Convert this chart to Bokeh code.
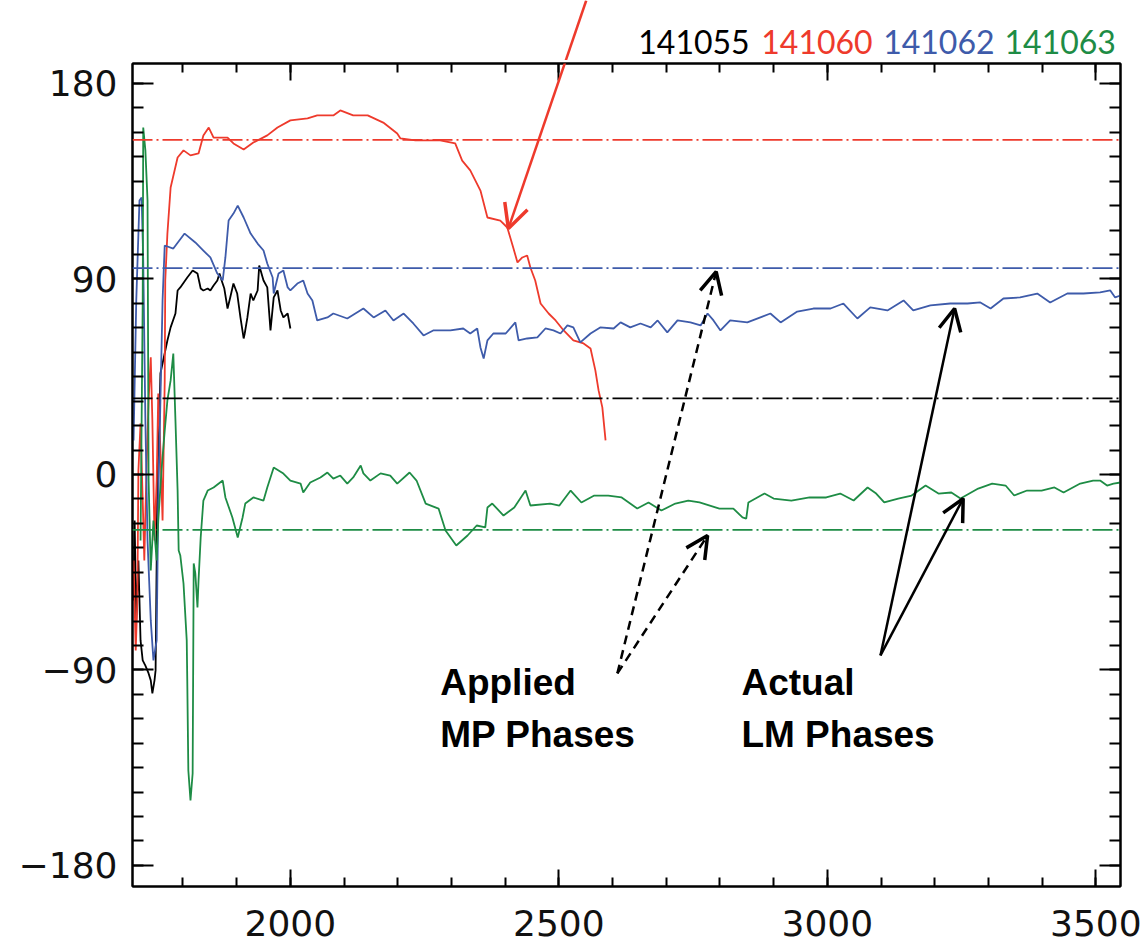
from bokeh.plotting import figure
from bokeh.layouts import column
from bokeh.models import (Span, Label, Arrow, OpenHead, LinearAxis, FixedTicker,
                          CustomJSTickFormatter)
from bokeh.embed import file_html
from bokeh.resources import INLINE

# ---------------- data ----------------
shots = ["141055", "141060", "141062", "141063"]
colors = ["#000000", "#EE3A2C", "#3E5BAA", "#1E8C45"]

# applied MP phases (horizontal reference levels), same order as shots
applied_phase = [35, 154, 95, -25.5]

black_x = [1708, 1710, 1713, 1717, 1721, 1725, 1730, 1736, 1740, 1743, 1747, 1749, 1751, 1752, 1756,
           1758, 1771, 1777, 1786, 1790, 1795, 1808, 1818, 1827, 1833, 1838, 1846, 1851, 1857, 1864,
           1868, 1872, 1877, 1883, 1888, 1894, 1901, 1907, 1913, 1915, 1920, 1926, 1931, 1939, 1942,
           1950, 1957, 1963, 1969, 1976, 1982, 1987, 1995, 2000]
black_y = [-58, -21.2, -67.2, -39.6, -76.4, -85.6, -88, -91.6, -94.8, -100.8, -94.8, -90.2, -39.6, -2.8, 24.8,
           46.5, 61.7, 67.7, 74.1, 84.7, 86.1, 90.7, 93.9, 92.5, 85.6, 84.7, 85.6, 84.7, 87, 89.3,
           92.5, 89.3, 85.6, 76.4, 81.5, 87.9, 83.3, 72.3, 62.6, 64.9, 72.3, 83.3, 80.1, 84.7, 96.2,
           89.3, 86.1, 66.3, 81.5, 84.7, 75.5, 72.3, 74.1, 67.2]

red_x = [1708, 1712, 1715, 1717, 1721, 1725, 1728, 1732, 1736, 1740, 1743, 1747, 1751, 1754, 1758,
         1762, 1766, 1767, 1771, 1777, 1790, 1801, 1814, 1829, 1838, 1848, 1857, 1883, 1894, 1913,
         1931, 1957, 1976, 2000, 2032, 2050, 2080, 2093, 2117, 2144, 2173, 2199, 2205, 2233, 2279,
         2307, 2320, 2335, 2354, 2367, 2391, 2404, 2415, 2423, 2432, 2441, 2447, 2456, 2466, 2481,
         2494, 2509, 2527, 2546, 2559, 2568, 2574, 2581, 2587]
red_y = [-39.6, -81, -58, 1.8, 23.5, -12, -39.6, 1.8, 34.1, 53.9, 24.8, -30.4, -2.8, 37.3, 11,
         -21.2, 43.3, 89.3, 110.9, 132.1, 145.9, 149.2, 146.9, 147.8, 156.1, 159.7, 155.1, 155.1, 152.4, 149.6,
         152.8, 156.1, 159.7, 163, 163.9, 165.3, 165.3, 167.6, 165.3, 165.3, 162, 157, 154.7, 153.8, 153.8,
         152.4, 144.5, 140, 130.7, 118.3, 116.9, 113.7, 104.5, 97.6, 99.9, 100.8, 95.3, 89.3, 78.7, 74.1,
         70.9, 66.3, 61.7, 60.3, 58, 47.9, 38.7, 30.9, 15.7]

blue_x = [1708, 1713, 1719, 1723, 1726, 1730, 1734, 1740, 1745, 1751, 1754, 1758, 1762, 1766, 1782,
          1803, 1823, 1838, 1851, 1864, 1874, 1879, 1885, 1894, 1902, 1913, 1926, 1939, 1950, 1957,
          1967, 1969, 1978, 1987, 1995, 2000, 2013, 2024, 2032, 2041, 2050, 2069, 2080, 2106, 2136,
          2155, 2177, 2192, 2211, 2229, 2248, 2266, 2298, 2322, 2335, 2348, 2354, 2360, 2367, 2378,
          2401, 2419, 2425, 2441, 2460, 2475, 2490, 2503, 2516, 2527, 2540, 2559, 2577, 2602, 2615,
          2633, 2652, 2671, 2684, 2702, 2721, 2745, 2764, 2777, 2788, 2801, 2819, 2851, 2894, 2913,
          2944, 2974, 3006, 3030, 3056, 3080, 3112, 3142, 3160, 3192, 3229, 3261, 3285, 3304, 3328,
          3359, 3391, 3415, 3447, 3477, 3508, 3527, 3536, 3546]
blue_y = [15.6, 80.1, 126.1, 127.5, 98.5, 24.8, -30.4, -67.2, -85.6, -76.4, -12, 34.1, 80.1, 105.4, 104,
          110.9, 106.8, 103.1, 99.9, 92.5, 89.3, 99.9, 116.9, 120.1, 123.8, 118.3, 110.9, 106.3, 103.1, 97.1,
          90.7, 83.3, 92.5, 93.9, 86.1, 84.7, 87.9, 89.3, 83.3, 80.1, 70.9, 72.3, 74.1, 71.8, 76.4,
          72.3, 75.5, 70.9, 74.1, 69.5, 64, 66.3, 66.3, 67.2, 64.9, 67.2, 58.5, 53.4, 61.7, 64.9,
          64.9, 70, 61.7, 62.6, 63.1, 67.2, 66.3, 64.9, 68.6, 67.7, 60.8, 64.9, 67.7, 67.2, 70,
          67.7, 69.5, 67.7, 70.9, 65.4, 70.9, 70, 68.6, 74.1, 70.9, 66.3, 70.9, 70, 74.1, 70,
          75, 76.4, 76.4, 78.7, 71.8, 76.9, 75.5, 80.1, 75.5, 77.8, 78.7, 78.7, 79.2, 76.4, 81,
          81.5, 83.3, 79.2, 83.3, 83.3, 83.8, 84.7, 81.5, 82.4]

green_x = [1721, 1725, 1726, 1730, 1734, 1736, 1740, 1745, 1751, 1754, 1760, 1766, 1771, 1777, 1782,
           1786, 1790, 1792, 1795, 1801, 1807, 1808, 1810, 1814, 1818, 1820, 1823, 1827, 1829, 1833,
           1838, 1846, 1857, 1874, 1879, 1892, 1902, 1911, 1916, 1931, 1950, 1957, 1969, 1987, 2000,
           2019, 2024, 2037, 2056, 2069, 2080, 2093, 2106, 2117, 2131, 2136, 2149, 2168, 2186, 2199,
           2222, 2235, 2252, 2276, 2289, 2309, 2330, 2347, 2363, 2367, 2376, 2397, 2417, 2438, 2447,
           2484, 2501, 2522, 2542, 2566, 2592, 2617, 2646, 2667, 2691, 2717, 2741, 2762, 2799, 2825,
           2842, 2849, 2853, 2883, 2900, 2933, 2967, 2998, 3024, 3049, 3075, 3091, 3106, 3132, 3157,
           3183, 3207, 3231, 3248, 3281, 3307, 3332, 3348, 3372, 3399, 3423, 3440, 3471, 3495, 3508,
           3521, 3533, 3546]
green_y = [-30.4, 80.1, 159.7, 149.2, 126.1, -2.8, -44.2, -21.2, -39.6, -21.2, 1.8, 20.2, 34.1, 43.3, 55.7,
           24.8, -7.4, -35, -37.3, -50.2, -76.4, -94.8, -136.3, -150.1, -137.7, -41, -45.6, -61.2, -48.8, -29,
           -12, -7.4, -6, -2.8, -10.6, -19.8, -29, -19.8, -13.4, -10.6, -12, -6, 3.2, 0.4, -2.8,
           -4.2, -8.3, -3.7, -1.4, 0.9, -1.9, -0.5, -4.2, -1.4, 4.1, 0.5, -2.8, 0.5, -0.5, -4.2,
           0.9, -2.8, -13.4, -15.7, -25.8, -32.7, -28.1, -23.5, -24.4, -15.2, -13.4, -18.9, -15.2, -7.4, -14.3,
           -13.4, -14.3, -7.4, -12.9, -9.7, -9.7, -10.6, -15.7, -12.9, -16.6, -13.4, -12, -12.9, -15.7, -15.7,
           -19.8, -20.3, -12.9, -8.8, -11.1, -12, -10.6, -10.6, -8.8, -12, -6, -8.8, -12.9, -11.1, -9.7,
           -5.1, -8.8, -8.3, -11.1, -6.5, -4.2, -5.1, -9.7, -7.4, -7.4, -6, -8.3, -4.2, -2.8, -2.8,
           -5.1, -4.2, -3.7]

x_major = [2000, 2500, 3000, 3500]
x_minor = list(range(1800, 3600, 100))
y_major = [-180, -90, 0, 90, 180]
y_minor = [-180 + 11.25 * k for k in range(33)]

# annotation anchor points (data coordinates, vertical centre of the text)
legend_x = [2648, 2877, 3104, 3330]
legend_y = 198.9
note_applied = ["Applied", "MP Phases"]
note_actual = ["Actual", "LM Phases"]
note_x = [2279, 2840]
note_y = [-95.8, -119.7]
red_arrow = (2551, 218.2, 2406, 113.2)
dash_arrows = [(2609, -91.6, 2793, 93.4), (2609, -91.6, 2777, -28.1)]
solid_arrows = [(3099, -83.3, 3237, 76.4), (3099, -83.3, 3253, -11.1)]

X_RANGE = (1706, 3546)
Y_MAIN = (-189.7, 189.2)
Y_TOP = (190.6, 218.2)   # strip above the box, same vertical scale

# ---------------- top strip (text / arrow outside the box) ----------------
top_fig = figure(width=1148, height=60, x_range=X_RANGE, y_range=Y_TOP,
                 output_backend="svg", toolbar_location=None,
                 x_axis_type=None, y_axis_type=None,
                 min_border_left=132, min_border_right=28, min_border_top=0, min_border_bottom=0)
top_fig.outline_line_color = None
top_fig.background_fill_color = "white"
top_fig.border_fill_color = "white"
top_fig.xgrid.visible = False
top_fig.ygrid.visible = False

for sx, name, col in zip(legend_x, shots, colors):
    top_fig.add_layout(Label(x=sx, y=legend_y, text=name, text_color=col,
                             text_font="Lato", text_font_size="32px", text_baseline="middle"))

# split the red arrow at the strip's lower edge
xs0, ys0, xe0, ye0 = red_arrow
split_y = Y_TOP[0]
split_x = xs0 + (split_y - ys0) / (ye0 - ys0) * (xe0 - xs0)
top_fig.segment(x0=[xs0], y0=[ys0], x1=[split_x], y1=[split_y], line_color=colors[1], line_width=2.5)

# ---------------- main plot ----------------
p = figure(width=1148, height=885, x_range=top_fig.x_range, y_range=Y_MAIN,
           output_backend="svg", toolbar_location=None,
           min_border_left=132, min_border_right=28, min_border_top=3, min_border_bottom=59)
p.background_fill_color = "white"
p.border_fill_color = "white"
p.xgrid.visible = False
p.ygrid.visible = False
p.outline_line_color = "black"
p.outline_line_width = 2

xt = FixedTicker(ticks=x_major, minor_ticks=x_minor)
yt = FixedTicker(ticks=y_major, minor_ticks=y_minor)
neg_fmt = CustomJSTickFormatter(code="return tick < 0 ? '\u2212' + Math.abs(tick) : String(tick);")
blank_fmt = CustomJSTickFormatter(code="return '';")


def style_axis(ax, major_in, minor_in):
    ax.axis_line_color = "black"
    ax.axis_line_width = 2
    ax.major_tick_line_color = "black"
    ax.major_tick_line_width = 2
    ax.minor_tick_line_color = "black"
    ax.minor_tick_line_width = 2
    ax.major_tick_in = major_in
    ax.major_tick_out = 0
    ax.minor_tick_in = minor_in
    ax.minor_tick_out = 0
    ax.major_label_text_font = "DejaVu Sans"
    ax.major_label_text_font_size = "36px"
    ax.major_label_text_color = "#111111"


xa = p.xaxis[0]
xa.ticker = xt
style_axis(xa, 17, 9)
xa.major_label_standoff = 23

ya = p.yaxis[0]
ya.ticker = yt
ya.formatter = neg_fmt
style_axis(ya, 21, 11)
ya.major_label_standoff = 15

top_ax = LinearAxis(ticker=xt, formatter=blank_fmt, major_label_standoff=0)
style_axis(top_ax, 17, 9)
p.add_layout(top_ax, "above")
right_ax = LinearAxis(ticker=yt, formatter=blank_fmt, major_label_standoff=0)
style_axis(right_ax, 21, 11)
p.add_layout(right_ax, "right")

# applied phase reference lines
for val, col in zip(applied_phase, colors):
    p.add_layout(Span(location=val, dimension="width", line_color=col,
                      line_width=1.8, line_dash="20 4 2 4"))

# actual phase traces
series = [(black_x, black_y), (red_x, red_y), (blue_x, blue_y), (green_x, green_y)]
for (xs, ys), col in zip(series, colors):
    p.line(xs, ys, line_color=col, line_width=1.8)

# text notes
for txt, ny in zip(note_applied, note_y):
    p.add_layout(Label(x=note_x[0], y=ny, text=txt, text_color="black", text_font="Liberation Sans",
                       text_font_style="bold", text_font_size="37px", text_baseline="middle"))
for txt, ny in zip(note_actual, note_y):
    p.add_layout(Label(x=note_x[1], y=ny, text=txt, text_color="black", text_font="Liberation Sans",
                       text_font_style="bold", text_font_size="37px", text_baseline="middle"))

# arrows
p.add_layout(Arrow(end=OpenHead(size=24, line_width=3.5, line_color=colors[1]),
                   x_start=split_x, y_start=split_y, x_end=xe0, y_end=ye0,
                   line_color=colors[1], line_width=2.5))
for xs_, ys_, xe_, ye_ in dash_arrows:
    p.add_layout(Arrow(end=OpenHead(size=22, line_width=3.5, line_color="black"),
                       x_start=xs_, y_start=ys_, x_end=xe_, y_end=ye_,
                       line_color="black", line_width=2.5, line_dash="9 6"))
for xs_, ys_, xe_, ye_ in solid_arrows:
    p.add_layout(Arrow(end=OpenHead(size=22, line_width=3.5, line_color="black"),
                       x_start=xs_, y_start=ys_, x_end=xe_, y_end=ye_,
                       line_color="black", line_width=2.5))

layout = column(top_fig, p, spacing=0)
open("out.html", "w").write(file_html(layout, INLINE))
